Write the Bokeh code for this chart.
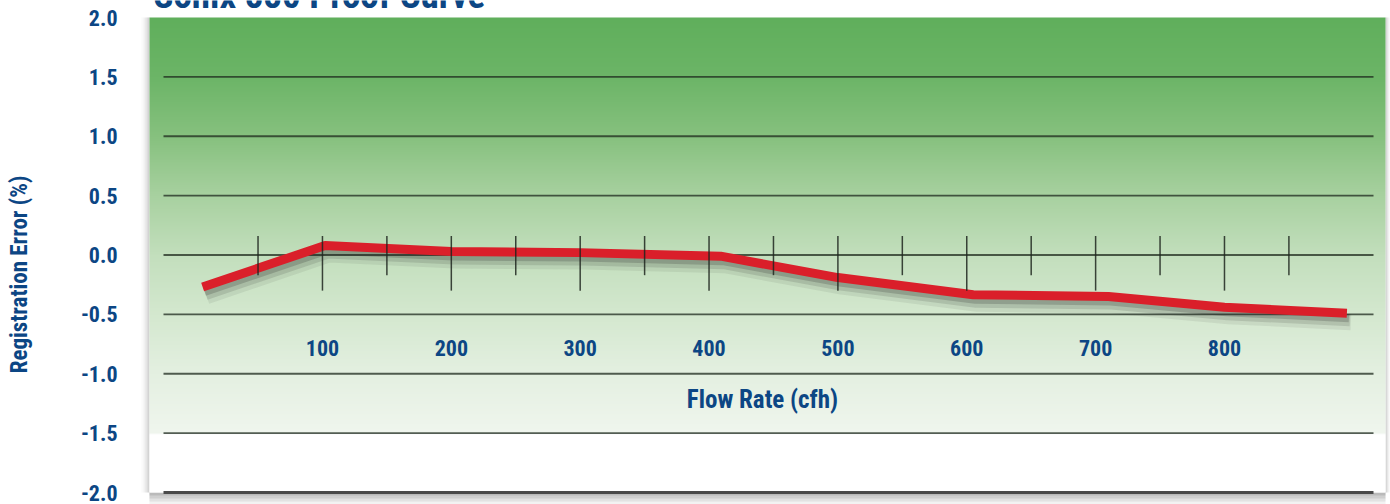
import numpy as np
from bokeh.plotting import figure
from bokeh.models import Range1d
from bokeh.core.properties import value
from bokeh.embed import file_html
from bokeh.resources import INLINE

# ---------------- data ----------------
title = "Sonix 880 Proof Curve"
x_label = "Flow Rate (cfh)"
y_label = "Registration Error (%)"
flow_rate = [7, 102, 200, 300, 409, 500, 605, 710, 800, 895]
reg_error = [-0.27, 0.08, 0.03, 0.02, -0.01, -0.19, -0.335, -0.35, -0.44, -0.49]
x_ticks = [100, 200, 300, 400, 500, 600, 700, 800]
x_tick_labels = ["100", "200", "300", "400", "500", "600", "700", "800"]
x_minor_ticks = [50, 150, 250, 350, 450, 550, 650, 750, 850]
y_ticks = [2.0, 1.5, 1.0, 0.5, 0.0, -0.5, -1.0, -1.5, -2.0]
y_tick_labels = ["2.0", "1.5", "1.0", "0.5", "0.0", "-0.5", "-1.0", "-1.5", "-2.0"]

# ---------------- style ----------------
FONT = "Liberation Sans Narrow, Roboto Condensed, Roboto, sans-serif"
BLUE = "#0c4684"
RED = "#da1f2a"
W, H = 1390, 504
PX_X = 1.2886                       # pixels per x unit
X_ORIGIN = 193.1                    # page x of flow 0
PX_Y = 118.75                       # pixels per y unit
Y_TOP_PAGE = 17                     # page y of value 2.0


def xdat(page_x):
    return (page_x - X_ORIGIN) / PX_X


def ydat(page_y):
    return 2.0 - (page_y - Y_TOP_PAGE) / PX_Y


X0, X1 = xdat(0), xdat(W)
Y0, Y1 = ydat(H), ydat(0)

p = figure(width=W, height=H, x_range=Range1d(X0, X1), y_range=Range1d(Y0, Y1),
           output_backend="svg", toolbar_location=None, x_axis_location=None,
           y_axis_location=None, min_border=0)
p.outline_line_color = None
p.grid.visible = False
p.background_fill_color = "white"
p.border_fill_color = "white"

panel_left = xdat(149)
panel_right = xdat(1385)
panel_top = 2.0
panel_bottom = -2.0

# panel shadows (left, right, bottom)
for i, a in enumerate([0.03, 0.05, 0.08, 0.12]):
    p.quad(left=panel_left - (4 - i) * 2 / PX_X, right=panel_left, bottom=panel_bottom,
           top=panel_top, fill_color="#555555", fill_alpha=a, line_color=None)
    p.quad(left=panel_right, right=panel_right + (4 - i) * 1.2 / PX_X,
           bottom=panel_bottom, top=panel_top, fill_color="#555555", fill_alpha=a,
           line_color=None)
    p.quad(left=panel_left, right=panel_right, top=panel_bottom,
           bottom=panel_bottom - (4 - i) * 3 / PX_Y, fill_color="#555555",
           fill_alpha=a + 0.05, line_color=None)

# panel gradient
stops_y = [-2.0, -1.51, -1.5, -1.0, -0.5, 0.0, 0.5, 1.0, 1.5, 2.0]
stops_c = [(255, 255, 255), (255, 255, 255), (240, 246, 238), (228, 240, 225),
           (212, 232, 207), (195, 223, 189), (168, 209, 160), (135, 193, 127),
           (108, 181, 103), (96, 175, 92)]
nrow = 480
ys = np.linspace(panel_bottom, panel_top, nrow)
img = np.empty((nrow, 2), dtype=np.uint32)
view = img.view(dtype=np.uint8).reshape((nrow, 2, 4))
for k in range(3):
    ch = np.interp(ys, stops_y, [c[k] for c in stops_c])
    view[:, :, k] = ch.astype(np.uint8)[:, None]
view[:, :, 3] = 255
p.image_rgba(image=[img], x=panel_left, y=panel_bottom, dw=panel_right - panel_left,
             dh=panel_top - panel_bottom)

# horizontal grid lines
grid_y = [t for t in y_ticks if panel_bottom < t < panel_top]
gx0, gx1 = xdat(163), xdat(1373)
p.segment(x0=[gx0] * len(grid_y), x1=[gx1] * len(grid_y), y0=grid_y, y1=grid_y,
          line_color="#1e2a1e", line_alpha=0.75, line_width=1.8)
p.segment(x0=[gx0], x1=[gx1], y0=[panel_bottom], y1=[panel_bottom],
          line_color="#4a4a4a", line_width=3)

# red curve shadow
sx = np.array(flow_rate, dtype=float)
sy = np.array(reg_error, dtype=float)
for dx, dy, w, a in [(4, 9, 16, 0.08), (3, 7, 12, 0.13), (2, 5, 8, 0.2)]:
    p.line(sx + dx / PX_X, sy - dy / PX_Y, line_color="#222222", line_alpha=a,
           line_width=w, line_join="round")
# red curve
p.line(flow_rate, reg_error, line_color=RED, line_width=9, line_join="round",
       line_cap="butt")

# ticks on zero line
p.segment(x0=x_ticks, x1=x_ticks, y0=[0.16] * len(x_ticks), y1=[-0.30] * len(x_ticks),
          line_color="#1f261f", line_alpha=0.85, line_width=1.5)
p.segment(x0=x_minor_ticks, x1=x_minor_ticks, y0=[0.16] * len(x_minor_ticks),
          y1=[-0.17] * len(x_minor_ticks), line_color="#1f261f", line_alpha=0.85,
          line_width=1.5)

# y tick labels (right aligned left of the panel)
p.text(x=[xdat(117)] * len(y_ticks), y=y_ticks, text=y_tick_labels,
       text_font=value(FONT), text_font_style="bold", text_font_size="22px",
       text_color=BLUE, text_align="right", text_baseline="middle")

# x tick labels and x axis title inside panel
p.text(x=x_ticks, y=[ydat(347)] * len(x_ticks), text=x_tick_labels,
       text_font=value(FONT), text_font_style="bold", text_font_size="22px",
       text_color=BLUE, text_align="center", text_baseline="middle")
p.text(x=[xdat(762)], y=[ydat(399)], text=[x_label], text_font=value(FONT),
       text_font_style="bold", text_font_size="25px", text_color=BLUE,
       text_align="center", text_baseline="middle")

# y axis title
p.text(x=[xdat(19)], y=[ydat(274)], text=[y_label], angle=np.pi / 2,
       text_font=value(FONT), text_font_style="bold", text_font_size="23px",
       text_color=BLUE, text_align="center", text_baseline="middle")

# chart title (cropped at the top edge like the source)
p.text(x=[xdat(153)], y=[ydat(-5)], text=[title], text_font=value(FONT),
       text_font_style="bold", text_font_size="37px", text_color=BLUE,
       text_align="left", text_baseline="middle")

open("out.html", "w").write(file_html(p, INLINE))
